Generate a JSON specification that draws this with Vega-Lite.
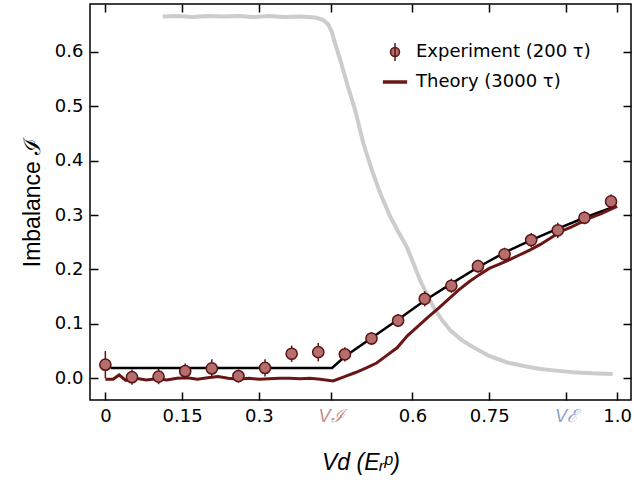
{
  "$schema": "https://vega.github.io/schema/vega-lite/v6.json",
  "width": 541,
  "height": 396,
  "autosize": {"type": "none"},
  "padding": {"left": 90, "top": 4, "right": 3, "bottom": 83},
  "config": {
    "view": {"stroke": "black", "strokeWidth": 1.5},
    "font": "Liberation Sans"
  },
  "datasets": {
    "gray": [
      {"x": 0.112, "y": 0.665}, {"x": 0.14, "y": 0.666}, {"x": 0.17, "y": 0.664}, {"x": 0.2, "y": 0.666},
      {"x": 0.23, "y": 0.665}, {"x": 0.26, "y": 0.666}, {"x": 0.29, "y": 0.664}, {"x": 0.32, "y": 0.666},
      {"x": 0.35, "y": 0.664}, {"x": 0.38, "y": 0.665}, {"x": 0.41, "y": 0.663}, {"x": 0.425, "y": 0.659},
      {"x": 0.435, "y": 0.651}, {"x": 0.442, "y": 0.638}, {"x": 0.45, "y": 0.612}, {"x": 0.459, "y": 0.585},
      {"x": 0.474, "y": 0.536}, {"x": 0.488, "y": 0.493}, {"x": 0.504, "y": 0.432}, {"x": 0.521, "y": 0.382},
      {"x": 0.537, "y": 0.340}, {"x": 0.557, "y": 0.296}, {"x": 0.573, "y": 0.268}, {"x": 0.589, "y": 0.241},
      {"x": 0.602, "y": 0.211}, {"x": 0.615, "y": 0.180}, {"x": 0.628, "y": 0.154}, {"x": 0.641, "y": 0.131},
      {"x": 0.657, "y": 0.108}, {"x": 0.674, "y": 0.088}, {"x": 0.695, "y": 0.071}, {"x": 0.719, "y": 0.057},
      {"x": 0.75, "y": 0.041}, {"x": 0.785, "y": 0.029}, {"x": 0.82, "y": 0.022}, {"x": 0.85, "y": 0.017},
      {"x": 0.88, "y": 0.014}, {"x": 0.914, "y": 0.011}, {"x": 0.95, "y": 0.009}, {"x": 0.991, "y": 0.008}
    ],
    "black": [
      {"x": 0.01, "y": 0.019}, {"x": 0.443, "y": 0.019}, {"x": 0.468, "y": 0.040}, {"x": 0.52, "y": 0.074},
      {"x": 0.572, "y": 0.108}, {"x": 0.624, "y": 0.143}, {"x": 0.676, "y": 0.174}, {"x": 0.728, "y": 0.204},
      {"x": 0.78, "y": 0.231}, {"x": 0.832, "y": 0.254}, {"x": 0.884, "y": 0.275}, {"x": 0.936, "y": 0.295},
      {"x": 0.99, "y": 0.314}
    ],
    "theory": [
      {"x": 0.0, "y": -0.002, "series": "Theory (3000 τ)"}, {"x": 0.015, "y": -0.002, "series": "Theory (3000 τ)"},
      {"x": 0.027, "y": 0.006, "series": "Theory (3000 τ)"}, {"x": 0.04, "y": -0.004, "series": "Theory (3000 τ)"},
      {"x": 0.06, "y": 0.0, "series": "Theory (3000 τ)"}, {"x": 0.08, "y": -0.003, "series": "Theory (3000 τ)"},
      {"x": 0.1, "y": -0.001, "series": "Theory (3000 τ)"}, {"x": 0.12, "y": -0.003, "series": "Theory (3000 τ)"},
      {"x": 0.14, "y": 0.0, "series": "Theory (3000 τ)"}, {"x": 0.16, "y": 0.001, "series": "Theory (3000 τ)"},
      {"x": 0.18, "y": -0.002, "series": "Theory (3000 τ)"}, {"x": 0.2, "y": 0.001, "series": "Theory (3000 τ)"},
      {"x": 0.22, "y": 0.003, "series": "Theory (3000 τ)"}, {"x": 0.24, "y": 0.0, "series": "Theory (3000 τ)"},
      {"x": 0.26, "y": -0.002, "series": "Theory (3000 τ)"}, {"x": 0.28, "y": 0.0, "series": "Theory (3000 τ)"},
      {"x": 0.3, "y": -0.002, "series": "Theory (3000 τ)"}, {"x": 0.32, "y": -0.001, "series": "Theory (3000 τ)"},
      {"x": 0.34, "y": 0.0, "series": "Theory (3000 τ)"}, {"x": 0.36, "y": 0.0, "series": "Theory (3000 τ)"},
      {"x": 0.38, "y": -0.001, "series": "Theory (3000 τ)"}, {"x": 0.4, "y": 0.0, "series": "Theory (3000 τ)"},
      {"x": 0.42, "y": -0.002, "series": "Theory (3000 τ)"}, {"x": 0.445, "y": -0.005, "series": "Theory (3000 τ)"},
      {"x": 0.47, "y": 0.004, "series": "Theory (3000 τ)"}, {"x": 0.49, "y": 0.011, "series": "Theory (3000 τ)"},
      {"x": 0.51, "y": 0.019, "series": "Theory (3000 τ)"}, {"x": 0.53, "y": 0.028, "series": "Theory (3000 τ)"},
      {"x": 0.55, "y": 0.042, "series": "Theory (3000 τ)"}, {"x": 0.57, "y": 0.056, "series": "Theory (3000 τ)"},
      {"x": 0.59, "y": 0.078, "series": "Theory (3000 τ)"}, {"x": 0.61, "y": 0.095, "series": "Theory (3000 τ)"},
      {"x": 0.63, "y": 0.112, "series": "Theory (3000 τ)"}, {"x": 0.65, "y": 0.128, "series": "Theory (3000 τ)"},
      {"x": 0.67, "y": 0.145, "series": "Theory (3000 τ)"}, {"x": 0.69, "y": 0.162, "series": "Theory (3000 τ)"},
      {"x": 0.71, "y": 0.177, "series": "Theory (3000 τ)"}, {"x": 0.73, "y": 0.19, "series": "Theory (3000 τ)"},
      {"x": 0.75, "y": 0.202, "series": "Theory (3000 τ)"}, {"x": 0.77, "y": 0.21, "series": "Theory (3000 τ)"},
      {"x": 0.79, "y": 0.218, "series": "Theory (3000 τ)"}, {"x": 0.81, "y": 0.227, "series": "Theory (3000 τ)"},
      {"x": 0.83, "y": 0.236, "series": "Theory (3000 τ)"}, {"x": 0.85, "y": 0.246, "series": "Theory (3000 τ)"},
      {"x": 0.87, "y": 0.258, "series": "Theory (3000 τ)"}, {"x": 0.89, "y": 0.27, "series": "Theory (3000 τ)"},
      {"x": 0.91, "y": 0.278, "series": "Theory (3000 τ)"}, {"x": 0.93, "y": 0.287, "series": "Theory (3000 τ)"},
      {"x": 0.95, "y": 0.296, "series": "Theory (3000 τ)"}, {"x": 0.97, "y": 0.303, "series": "Theory (3000 τ)"},
      {"x": 0.99, "y": 0.312, "series": "Theory (3000 τ)"}, {"x": 1.0, "y": 0.316, "series": "Theory (3000 τ)"}
    ],
    "exp": [
      {"x": 0.0, "y": 0.025, "ylo": 0.0, "yhi": 0.05, "series": "Experiment (200 τ)"},
      {"x": 0.052, "y": 0.002, "ylo": -0.012, "yhi": 0.016, "series": "Experiment (200 τ)"},
      {"x": 0.104, "y": 0.003, "ylo": -0.011, "yhi": 0.017, "series": "Experiment (200 τ)"},
      {"x": 0.156, "y": 0.013, "ylo": -0.001, "yhi": 0.027, "series": "Experiment (200 τ)"},
      {"x": 0.208, "y": 0.018, "ylo": 0.001, "yhi": 0.035, "series": "Experiment (200 τ)"},
      {"x": 0.26, "y": 0.004, "ylo": -0.008, "yhi": 0.016, "series": "Experiment (200 τ)"},
      {"x": 0.312, "y": 0.019, "ylo": 0.003, "yhi": 0.035, "series": "Experiment (200 τ)"},
      {"x": 0.364, "y": 0.045, "ylo": 0.03, "yhi": 0.06, "series": "Experiment (200 τ)"},
      {"x": 0.416, "y": 0.048, "ylo": 0.031, "yhi": 0.065, "series": "Experiment (200 τ)"},
      {"x": 0.468, "y": 0.044, "ylo": 0.031, "yhi": 0.057, "series": "Experiment (200 τ)"},
      {"x": 0.52, "y": 0.073, "ylo": 0.061, "yhi": 0.085, "series": "Experiment (200 τ)"},
      {"x": 0.572, "y": 0.106, "ylo": 0.094, "yhi": 0.118, "series": "Experiment (200 τ)"},
      {"x": 0.624, "y": 0.146, "ylo": 0.132, "yhi": 0.16, "series": "Experiment (200 τ)"},
      {"x": 0.676, "y": 0.170, "ylo": 0.157, "yhi": 0.183, "series": "Experiment (200 τ)"},
      {"x": 0.728, "y": 0.206, "ylo": 0.194, "yhi": 0.218, "series": "Experiment (200 τ)"},
      {"x": 0.78, "y": 0.228, "ylo": 0.216, "yhi": 0.24, "series": "Experiment (200 τ)"},
      {"x": 0.832, "y": 0.254, "ylo": 0.241, "yhi": 0.267, "series": "Experiment (200 τ)"},
      {"x": 0.884, "y": 0.272, "ylo": 0.258, "yhi": 0.286, "series": "Experiment (200 τ)"},
      {"x": 0.936, "y": 0.295, "ylo": 0.283, "yhi": 0.307, "series": "Experiment (200 τ)"},
      {"x": 0.988, "y": 0.325, "ylo": 0.312, "yhi": 0.338, "series": "Experiment (200 τ)"}
    ]
  },
  "layer": [
    {
      "data": {"name": "gray"},
      "mark": {"type": "line", "stroke": "#cccccc", "strokeWidth": 4},
      "encoding": {
        "x": {
          "field": "x", "type": "quantitative",
          "scale": {"domain": [-0.03, 1.027], "nice": false, "zero": false},
          "axis": {
            "orient": "bottom",
            "values": [0, 0.15, 0.3, 0.44, 0.6, 0.75, 0.9, 1],
            "domain": false, "grid": false,
            "tickSize": -8, "tickWidth": 1.5, "tickColor": "black",
            "labelPadding": 15, "labelFontSize": 18,
            "labelFont": {"condition": {"test": "datum.value == 0.44 || datum.value == 0.9", "value": "Liberation Sans"}, "value": "DejaVu Sans"},
            "labelOverlap": false, "labelFlush": false,
            "labelExpr": "datum.value == 0.44 ? 'Vℐ' : datum.value == 0.9 ? 'Vℰ' : datum.value == 1 ? '1.0' : datum.value == 0 ? '0' : format(datum.value, '.2~f')",
            "labelColor": {"condition": [{"test": "datum.value == 0.44", "value": "#c88a8a"}, {"test": "datum.value == 0.9", "value": "#8c9fcc"}], "value": "black"},
            "labelFontStyle": {"condition": {"test": "datum.value == 0.44 || datum.value == 0.9", "value": "italic"}, "value": "normal"},
            "title": "Vd (Eᵣᵖ)",
            "titleFont": "Liberation Sans", "titleFontSize": 23, "titleFontStyle": "italic", "titleFontWeight": "normal",
            "titleColor": "black", "titlePadding": 26
          }
        },
        "y": {
          "field": "y", "type": "quantitative",
          "scale": {"domain": [-0.04, 0.688], "nice": false, "zero": false},
          "axis": {
            "orient": "left",
            "values": [0, 0.1, 0.2, 0.3, 0.4, 0.5, 0.6],
            "format": ".1f",
            "domain": false, "grid": false,
            "tickSize": -8, "tickWidth": 1.5, "tickColor": "black",
            "labelPadding": 15, "labelFontSize": 18, "labelFont": "DejaVu Sans", "labelColor": "black",
            "labelOverlap": false, "labelFlush": false,
            "title": "Imbalance ℐ",
            "titleFont": "Liberation Sans", "titleFontSize": 23, "titleFontWeight": "normal",
            "titleColor": "black", "titlePadding": 10
          }
        }
      }
    },
    {
      "data": {"name": "black"},
      "mark": {"type": "line", "stroke": "black", "strokeWidth": 2.5},
      "encoding": {
        "x": {
          "field": "x", "type": "quantitative",
          "scale": {"domain": [-0.03, 1.027], "nice": false, "zero": false},
          "axis": {
            "orient": "top", "values": [0, 0.15, 0.3, 0.44, 0.6, 0.75, 0.9, 1],
            "domain": false, "grid": false, "labels": false, "title": null,
            "tickSize": -8, "tickWidth": 1.5, "tickColor": "black"
          }
        },
        "y": {
          "field": "y", "type": "quantitative",
          "scale": {"domain": [-0.04, 0.688], "nice": false, "zero": false},
          "axis": {
            "orient": "right", "values": [0, 0.1, 0.2, 0.3, 0.4, 0.5, 0.6],
            "domain": false, "grid": false, "labels": false, "title": null,
            "tickSize": -8, "tickWidth": 1.5, "tickColor": "black"
          }
        }
      }
    },
    {
      "data": {"name": "theory"},
      "mark": {"type": "line", "strokeWidth": 3},
      "encoding": {
        "x": {"field": "x", "type": "quantitative", "scale": {"domain": [-0.03, 1.027], "nice": false, "zero": false}, "axis": null},
        "y": {"field": "y", "type": "quantitative", "scale": {"domain": [-0.04, 0.688], "nice": false, "zero": false}, "axis": null},
        "stroke": {
          "field": "series", "type": "nominal",
          "scale": {"domain": ["Experiment (200 τ)", "Theory (3000 τ)"], "range": ["#5c1414", "#6b1616"]},
          "legend": {
            "orient": "none", "legendX": 296, "legendY": 39,
            "title": null, "padding": 0,
            "labelFont": "DejaVu Sans", "labelFontSize": 18, "labelColor": "black", "labelLimit": 400,
            "symbolSize": 81, "rowPadding": 9, "labelOffset": 12,
            "encode": {
              "symbols": {
                "update": {
                  "shape": {"signal": "datum.value == 'Experiment (200 τ)' ? 'M0,-2L0,2M-1,0A1,1 0 1,1 1,0A1,1 0 1,1 -1,0Z' : 'M-2.7,0L2.7,0'"},
                  "fill": {"signal": "datum.value == 'Experiment (200 τ)' ? '#b46e6e' : 'transparent'"},
                  "fillOpacity": {"value": 1},
                  "strokeWidth": {"signal": "datum.value == 'Experiment (200 τ)' ? 1.5 : 3.5"},
                  "opacity": {"value": 1}
                }
              }
            }
          }
        }
      }
    },
    {
      "data": {"name": "exp"},
      "mark": {"type": "rule", "stroke": "#5c1414", "strokeWidth": 1.5},
      "encoding": {
        "x": {"field": "x", "type": "quantitative", "scale": {"domain": [-0.03, 1.027], "nice": false, "zero": false}, "axis": null},
        "y": {"field": "ylo", "type": "quantitative", "scale": {"domain": [-0.04, 0.688], "nice": false, "zero": false}, "axis": null},
        "y2": {"field": "yhi"}
      }
    },
    {
      "data": {"name": "exp"},
      "mark": {"type": "point", "shape": "circle", "filled": true, "fill": "#b46e6e", "size": 125, "strokeWidth": 1.5, "opacity": 1, "fillOpacity": 1},
      "encoding": {
        "x": {"field": "x", "type": "quantitative", "scale": {"domain": [-0.03, 1.027], "nice": false, "zero": false}, "axis": null},
        "y": {"field": "y", "type": "quantitative", "scale": {"domain": [-0.04, 0.688], "nice": false, "zero": false}, "axis": null},
        "stroke": {"field": "series", "type": "nominal"}
      }
    }
  ],
  "resolve": {"axis": {"x": "independent", "y": "independent"}}
}
